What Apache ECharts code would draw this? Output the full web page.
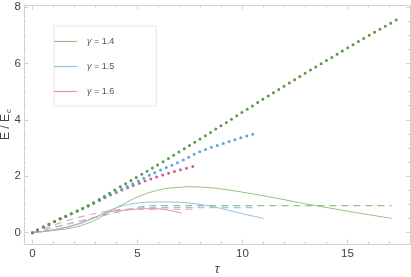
<!DOCTYPE html>
<html><head><meta charset="utf-8">
<script src="https://cdn.jsdelivr.net/npm/echarts@6/dist/echarts.min.js"></script>
<style>html,body{margin:0;padding:0;background:#fff}#c{width:411px;height:277px}</style>
</head><body><div id="c"></div>
<script>
// ---- data ----
const legendNames = ['γ = 1.4', 'γ = 1.5', 'γ = 1.6'];
const xLabelVals = [0, 5, 10, 15];
const yLabelVals = [0, 2, 4, 6, 8];

// dotted curves
const dotTau14 = [0, 1, 2, 3, 4, 5, 6, 7, 8, 9, 10, 11, 12, 13, 14, 15, 16, 17, 17.4];
const dotE14   = [0, 0.38, 0.72, 1.1, 1.55, 1.98, 2.42, 2.87, 3.33, 3.8, 4.27, 4.74, 5.2, 5.66, 6.1, 6.55, 6.98, 7.4, 7.58];
const dotTau15 = [0, 1, 2, 3, 4, 5, 6, 7, 8, 9, 10, 10.75];
const dotE15   = [0, 0.38, 0.72, 1.08, 1.45, 1.82, 2.19, 2.51, 2.88, 3.14, 3.38, 3.55];
const dotTau16 = [0, 1, 2, 3, 3.85, 5, 6, 7, 7.66];
const dotE16   = [0, 0.38, 0.72, 1.07, 1.38, 1.73, 2.0, 2.22, 2.35];

// solid curves
const solTau14 = [0, 1, 2, 3, 3.7, 4.5, 5.1, 5.8, 6.4, 7, 7.5, 8.2, 9.1, 10.3, 11.5, 13.1, 14.5, 16, 17.1];
const solE14   = [0, 0.08, 0.19, 0.45, 0.77, 1.08, 1.30, 1.47, 1.57, 1.61, 1.63, 1.61, 1.54, 1.40, 1.24, 1.01, 0.83, 0.64, 0.51];
const solTau15 = [0, 1, 2.1, 3, 3.7, 4.4, 5.1, 6, 7, 7.8, 8.6, 9.3, 9.9, 11];
const solE15   = [0, 0.1, 0.28, 0.55, 0.8, 0.97, 1.06, 1.09, 1.08, 1.02, 0.92, 0.8, 0.69, 0.51];
const solTau16 = [0, 1, 2.1, 3, 3.7, 4.6, 5.3, 5.9, 6.5, 7.1];
const solE16   = [0, 0.1, 0.3, 0.55, 0.74, 0.81, 0.85, 0.85, 0.8, 0.69];

// dashed curves
const dashTau14 = [0, 4.6, 5.2, 5.8, 17.1];
const dashE14   = [0, 0.83, 0.92, 0.96, 0.96];
const dashTau15 = [0, 4.6, 5.0, 5.5, 10.6];
const dashE15   = [0, 0.83, 0.87, 0.89, 0.89];
const dashTau16 = [0, 4.6, 5.0, 7.7];
const dashE16   = [0, 0.83, 0.83, 0.83];

// ---- styling ----
const dotColors  = ['#5b9a45', '#5aa7d8', '#d25e8c'];
const solColors  = ['#94c386', '#93c2e2', '#e393b0'];
const dashColors = ['#94c386', '#9cc6e4', '#e8a3bd'];
const frameColor = '#d2d2d2';
const FONT = 'Liberation Sans, Arial, sans-serif';

function zip(t, e) { return t.map((v, i) => [v, e[i]]); }
function range(a, b, s) { const r = []; for (let v = a; v <= b + 1e-9; v += s) r.push(+v.toFixed(3)); return r; }

const dots = [[dotTau14, dotE14], [dotTau15, dotE15], [dotTau16, dotE16]];
const sols = [[solTau14, solE14], [solTau15, solE15], [solTau16, solE16]];
const dashes = [[dashTau14, dashE14], [dashTau15, dashE15], [dashTau16, dashE16]];

const series = [];
dashes.forEach((d, i) => series.push({
  type: 'line', name: 'dash' + i, data: zip(d[0], d[1]), symbol: 'none', smooth: 0.4,
  lineStyle: { color: dashColors[i], width: 1.1, type: [7, 5] }, itemStyle: { color: dashColors[i] },
  silent: true, z: 2
}));
sols.forEach((d, i) => series.push({
  type: 'line', name: legendNames[i], data: zip(d[0], d[1]), symbol: 'none', smooth: 0.4,
  lineStyle: { color: solColors[i], width: 1 }, itemStyle: { color: solColors[i] },
  silent: true, z: 3
}));
dots.forEach((d, i) => series.push({
  type: 'line', name: 'dot' + i, data: zip(d[0], d[1]), symbol: 'none', smooth: 0.4,
  lineStyle: { color: dotColors[i], width: 3, type: [0, 6.2], cap: 'round' }, itemStyle: { color: dotColors[i] },
  silent: true, z: 4 + (2 - i)
}));

const XMIN = -0.4, XMAX = 18, YMIN = -0.4, YMAX = 8.07;
function xa(pos, ticks, len, labels, extra) {
  return Object.assign({
    type: 'value', min: XMIN, max: XMAX, position: pos,
    axisLine: { show: true, onZero: false, lineStyle: { color: frameColor, width: 1 } },
    axisTick: { show: true, inside: true, length: len, customValues: ticks, lineStyle: { color: frameColor } },
    axisLabel: labels ? { show: true, customValues: labels, fontSize: 11.5, color: '#444', fontFamily: FONT, margin: 4 } : { show: false },
    splitLine: { show: false }
  }, extra || {});
}
function ya(pos, ticks, len, labels, extra) {
  return Object.assign({
    type: 'value', min: YMIN, max: YMAX, position: pos,
    axisLine: { show: true, onZero: false, lineStyle: { color: frameColor, width: 1 } },
    axisTick: { show: true, inside: true, length: len, customValues: ticks, lineStyle: { color: frameColor } },
    axisLabel: labels ? { show: true, customValues: labels, fontSize: 11.5, color: '#444', fontFamily: FONT, margin: 3 } : { show: false },
    splitLine: { show: false }
  }, extra || {});
}

const option = {
  animation: false,
  backgroundColor: '#fff',
  grid: { left: 24, right: 0.5, top: 5, bottom: 33, containLabel: false, outerBoundsMode: 'none' },
  legend: {
    data: legendNames, orient: 'vertical', left: 54, top: 26,
    icon: 'rect', itemWidth: 23, itemHeight: 1.2, itemGap: 16,
    padding: [11, 42, 10, 0],
    borderColor: '#e8e8e8', borderWidth: 1,
    selectedMode: false,
    textStyle: { fontSize: 9, color: '#555', fontFamily: FONT, padding: [0, 0, 0, 5],
      rich: { g: { fontSize: 9, fontStyle: 'italic', color: '#555', fontFamily: FONT } } },
    formatter: n => n.replace('γ', '{g|γ}')
  },
  xAxis: [
    xa('bottom', range(0, 18, 1), 2.5, xLabelVals, {
      name: 'τ', nameLocation: 'middle', nameGap: 19, nameMoveOverlap: false,
      nameTextStyle: { fontSize: 13, fontStyle: 'italic', color: '#444', fontFamily: FONT }
    }),
    xa('bottom', xLabelVals, 4.5, null),
    xa('top', range(0, 18, 1), 2.5, null),
    xa('top', xLabelVals, 4.5, null)
  ],
  yAxis: [
    ya('left', range(0, 8, 0.5), 2.5, yLabelVals, {
      name: '{a|E / E}{b|c}', nameLocation: 'middle', nameGap: 11, nameRotate: 90, nameMoveOverlap: false,
      nameTextStyle: { color: '#444', fontFamily: FONT,
        rich: { a: { fontSize: 12, color: '#444', fontFamily: FONT },
                b: { fontSize: 8, fontStyle: 'italic', color: '#444', fontFamily: FONT, padding: [6, 0, 0, 1] } } }
    }),
    ya('left', yLabelVals, 4.5, null),
    ya('right', range(0, 8, 0.5), 2.5, null),
    ya('right', yLabelVals, 4.5, null)
  ],
  series: series
};

const chart = echarts.init(document.getElementById('c'), null, { renderer: 'canvas' });
chart.setOption(option);
</script>
</body></html>
